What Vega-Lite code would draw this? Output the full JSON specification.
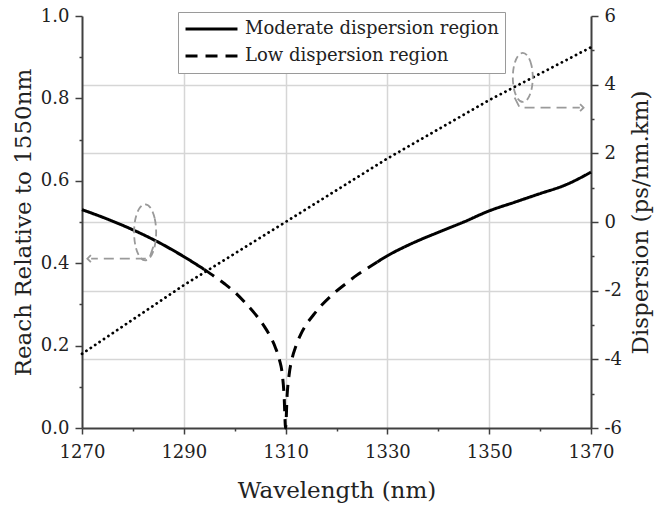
{
  "$schema": "https://vega.github.io/schema/vega-lite/v6.json",
  "width": 509,
  "height": 412,
  "autosize": {"type": "none"},
  "padding": {"left": 82, "top": 16, "right": 67, "bottom": 78},
  "background": "white",
  "config": {
    "font": "DejaVu Serif",
    "view": {"stroke": null},
    "axis": {
      "domainColor": "#404040",
      "domainWidth": 2,
      "tickColor": "#404040",
      "tickWidth": 1.5,
      "labelFont": "DejaVu Serif",
      "labelFontSize": 18,
      "labelColor": "#222222",
      "labelFlush": false,
      "labelOverlap": false,
      "titleFont": "DejaVu Serif",
      "titleFontSize": 23,
      "titleFontWeight": "normal",
      "titleColor": "#222222",
      "gridColor": "#d6d6d6",
      "gridWidth": 1.5
    },
    "legend": {
      "labelFont": "DejaVu Serif",
      "labelFontSize": 18,
      "labelColor": "#222222",
      "labelLimit": 0
    }
  },
  "datasets": {
    "reach": [
      {"x": 1270, "y": 0.530, "region": "Moderate dispersion region", "seg": "m1"},
      {"x": 1275, "y": 0.507, "region": "Moderate dispersion region", "seg": "m1"},
      {"x": 1280, "y": 0.481, "region": "Moderate dispersion region", "seg": "m1"},
      {"x": 1285, "y": 0.451, "region": "Moderate dispersion region", "seg": "m1"},
      {"x": 1290, "y": 0.416, "region": "Moderate dispersion region", "seg": "m1"},
      {"x": 1294, "y": 0.385, "region": "Moderate dispersion region", "seg": "m1"},
      {"x": 1294, "y": 0.385, "region": "Low dispersion region", "seg": "low"},
      {"x": 1296, "y": 0.368, "region": "Low dispersion region", "seg": "low"},
      {"x": 1298, "y": 0.350, "region": "Low dispersion region", "seg": "low"},
      {"x": 1300, "y": 0.330, "region": "Low dispersion region", "seg": "low"},
      {"x": 1302, "y": 0.305, "region": "Low dispersion region", "seg": "low"},
      {"x": 1304, "y": 0.277, "region": "Low dispersion region", "seg": "low"},
      {"x": 1306, "y": 0.243, "region": "Low dispersion region", "seg": "low"},
      {"x": 1307, "y": 0.222, "region": "Low dispersion region", "seg": "low"},
      {"x": 1308, "y": 0.195, "region": "Low dispersion region", "seg": "low"},
      {"x": 1308.8, "y": 0.165, "region": "Low dispersion region", "seg": "low"},
      {"x": 1309.3, "y": 0.135, "region": "Low dispersion region", "seg": "low"},
      {"x": 1309.7, "y": 0.080, "region": "Low dispersion region", "seg": "low"},
      {"x": 1310, "y": 0.0, "region": "Low dispersion region", "seg": "low"},
      {"x": 1310.3, "y": 0.080, "region": "Low dispersion region", "seg": "low"},
      {"x": 1310.7, "y": 0.130, "region": "Low dispersion region", "seg": "low"},
      {"x": 1311.3, "y": 0.170, "region": "Low dispersion region", "seg": "low"},
      {"x": 1312, "y": 0.198, "region": "Low dispersion region", "seg": "low"},
      {"x": 1313, "y": 0.228, "region": "Low dispersion region", "seg": "low"},
      {"x": 1314, "y": 0.250, "region": "Low dispersion region", "seg": "low"},
      {"x": 1315.5, "y": 0.275, "region": "Low dispersion region", "seg": "low"},
      {"x": 1317, "y": 0.297, "region": "Low dispersion region", "seg": "low"},
      {"x": 1319.4, "y": 0.326, "region": "Low dispersion region", "seg": "low"},
      {"x": 1322, "y": 0.352, "region": "Low dispersion region", "seg": "low"},
      {"x": 1324, "y": 0.371, "region": "Low dispersion region", "seg": "low"},
      {"x": 1326, "y": 0.387, "region": "Low dispersion region", "seg": "low"},
      {"x": 1328, "y": 0.403, "region": "Low dispersion region", "seg": "low"},
      {"x": 1328, "y": 0.403, "region": "Moderate dispersion region", "seg": "m2"},
      {"x": 1330, "y": 0.418, "region": "Moderate dispersion region", "seg": "m2"},
      {"x": 1335, "y": 0.449, "region": "Moderate dispersion region", "seg": "m2"},
      {"x": 1340, "y": 0.475, "region": "Moderate dispersion region", "seg": "m2"},
      {"x": 1345, "y": 0.500, "region": "Moderate dispersion region", "seg": "m2"},
      {"x": 1350, "y": 0.527, "region": "Moderate dispersion region", "seg": "m2"},
      {"x": 1355, "y": 0.548, "region": "Moderate dispersion region", "seg": "m2"},
      {"x": 1360, "y": 0.569, "region": "Moderate dispersion region", "seg": "m2"},
      {"x": 1365, "y": 0.590, "region": "Moderate dispersion region", "seg": "m2"},
      {"x": 1370, "y": 0.621, "region": "Moderate dispersion region", "seg": "m2"}
    ],
    "disp": [
      {"x": 1270, "y": -3.84},
      {"x": 1290, "y": -1.84},
      {"x": 1310, "y": 0.0},
      {"x": 1330, "y": 1.85},
      {"x": 1350, "y": 3.55},
      {"x": 1370, "y": 5.09}
    ],
    "ellL": [
      {"x": 1284.57, "y": 0.475, "o": 0},
      {"x": 1284.28, "y": 0.509, "o": 1},
      {"x": 1283.49, "y": 0.534, "o": 2},
      {"x": 1282.4, "y": 0.543, "o": 3},
      {"x": 1281.32, "y": 0.534, "o": 4},
      {"x": 1280.52, "y": 0.509, "o": 5},
      {"x": 1280.23, "y": 0.475, "o": 6},
      {"x": 1280.52, "y": 0.441, "o": 7},
      {"x": 1281.32, "y": 0.416, "o": 8},
      {"x": 1282.4, "y": 0.407, "o": 9},
      {"x": 1283.49, "y": 0.416, "o": 10},
      {"x": 1284.28, "y": 0.441, "o": 11}
    ],
    "arrL": [
      {"x": 1284.0, "y": 0.44, "o": 0},
      {"x": 1283.2, "y": 0.411, "o": 1},
      {"x": 1271.8, "y": 0.411, "o": 2}
    ],
    "headL": [{"x": 1271.4, "y": 0.411}],
    "ellR": [
      {"x": 1358.56, "y": 4.21, "o": 0},
      {"x": 1358.30, "y": 4.567, "o": 1},
      {"x": 1357.58, "y": 4.828, "o": 2},
      {"x": 1356.6, "y": 4.924, "o": 3},
      {"x": 1355.62, "y": 4.828, "o": 4},
      {"x": 1354.90, "y": 4.567, "o": 5},
      {"x": 1354.64, "y": 4.21, "o": 6},
      {"x": 1354.90, "y": 3.853, "o": 7},
      {"x": 1355.62, "y": 3.592, "o": 8},
      {"x": 1356.6, "y": 3.496, "o": 9},
      {"x": 1357.58, "y": 3.592, "o": 10},
      {"x": 1358.30, "y": 3.853, "o": 11}
    ],
    "arrR": [
      {"x": 1355.0, "y": 3.62, "o": 0},
      {"x": 1356.0, "y": 3.33, "o": 1},
      {"x": 1367.8, "y": 3.33, "o": 2}
    ],
    "headR": [{"x": 1368.2, "y": 3.33}]
  },
  "layer": [
    {
      "encoding": {
        "x": {
          "field": "x", "type": "quantitative",
          "scale": {"domain": [1270, 1370], "nice": false, "zero": false},
          "axis": {
            "title": "Wavelength (nm)",
            "values": [1270, 1280, 1290, 1300, 1310, 1320, 1330, 1340, 1350, 1360, 1370],
            "format": "d",
            "labelExpr": "(datum.value - 1270) % 20 == 0 ? datum.label : ''",
            "tickSize": {"condition": {"test": "(datum.value - 1270) % 20 == 0", "value": 6}, "value": 3},
            "grid": true,
            "gridOpacity": {"condition": {"test": "(datum.value - 1270) % 20 == 0 && datum.value > 1270 && datum.value < 1370", "value": 1}, "value": 0},
            "labelPadding": 9,
            "titlePadding": 18
          }
        },
        "y": {
          "field": "y", "type": "quantitative",
          "scale": {"domain": [0, 1], "nice": false, "zero": false},
          "axis": {
            "title": "Reach Relative to 1550nm",
            "orient": "left",
            "values": [0, 0.1, 0.2, 0.3, 0.4, 0.5, 0.6, 0.7, 0.8, 0.9, 1.0],
            "format": ".1f",
            "labelExpr": "round(datum.value * 10) % 2 == 0 ? datum.label : ''",
            "tickSize": {"condition": {"test": "round(datum.value * 10) % 2 == 0", "value": 7}, "value": 3},
            "grid": false,
            "labelPadding": 6,
            "titlePadding": 5
          }
        }
      },
      "layer": [
        {
          "data": {"name": "reach"},
          "mark": {"type": "line", "color": "black", "strokeWidth": 3, "interpolate": "monotone"},
          "encoding": {
            "strokeDash": {
              "field": "region", "type": "nominal",
              "scale": {"domain": ["Moderate dispersion region", "Low dispersion region"], "range": [[1, 0], [12, 8]]},
              "legend": {
                "title": null,
                "orient": "none",
                "legendX": 96,
                "legendY": -4,
                "padding": 6,
                "strokeColor": "#9a9a9a",
                "fillColor": "white",
                "symbolType": "stroke",
                "symbolStrokeWidth": 3,
                "symbolStrokeColor": "black",
                "symbolSize": 2700,
                "clipHeight": 22,
                "rowPadding": 5,
                "labelOffset": 6
              }
            },
            "detail": {"field": "seg"}
          }
        },
        {
          "data": {"name": "ellL"},
          "mark": {"type": "line", "interpolate": "cardinal-closed", "color": "#9a9a9a", "strokeWidth": 1.8, "strokeDash": [7, 4]},
          "encoding": {"order": {"field": "o", "type": "quantitative"}}
        },
        {
          "data": {"name": "arrL"},
          "mark": {"type": "line", "color": "#9a9a9a", "strokeWidth": 1.8, "strokeDash": [10, 6]},
          "encoding": {"order": {"field": "o", "type": "quantitative"}}
        },
        {
          "data": {"name": "headL"},
          "mark": {"type": "point", "shape": "M0.5,-1L-0.5,0L0.5,1", "filled": false, "color": "#9a9a9a", "strokeWidth": 1.8, "size": 50, "opacity": 1},
          "encoding": {}
        }
      ]
    },
    {
      "encoding": {
        "x": {
          "field": "x", "type": "quantitative",
          "scale": {"domain": [1270, 1370], "nice": false, "zero": false},
          "axis": {
            "title": "Wavelength (nm)",
            "values": [1270, 1280, 1290, 1300, 1310, 1320, 1330, 1340, 1350, 1360, 1370],
            "format": "d",
            "labelExpr": "(datum.value - 1270) % 20 == 0 ? datum.label : ''",
            "tickSize": {"condition": {"test": "(datum.value - 1270) % 20 == 0", "value": 6}, "value": 3},
            "grid": true,
            "gridOpacity": {"condition": {"test": "(datum.value - 1270) % 20 == 0 && datum.value > 1270 && datum.value < 1370", "value": 1}, "value": 0},
            "labelPadding": 9,
            "titlePadding": 18
          }
        },
        "y": {
          "field": "y", "type": "quantitative",
          "scale": {"domain": [-6, 6], "nice": false, "zero": false},
          "axis": {
            "title": "Dispersion (ps/nm.km)",
            "orient": "right",
            "titleAngle": 270,
            "titleBaseline": "top",
            "values": [-6, -5, -4, -3, -2, -1, 0, 1, 2, 3, 4, 5, 6],
            "labelExpr": "abs(datum.value) % 2 == 0 ? ((datum.value < 0 ? '-' : '') + abs(datum.value)) : ''",
            "tickSize": {"condition": {"test": "abs(datum.value) % 2 == 0", "value": 7}, "value": 3},
            "grid": true,
            "gridOpacity": {"condition": {"test": "abs(datum.value) % 2 == 0 && abs(datum.value) < 6", "value": 1}, "value": 0},
            "labelPadding": 6,
            "titlePadding": 8
          }
        }
      },
      "layer": [
        {
          "data": {"name": "disp"},
          "mark": {"type": "line", "color": "black", "strokeWidth": 2.8, "strokeDash": [0.1, 5.2], "strokeCap": "round"}
        },
        {
          "data": {"name": "ellR"},
          "mark": {"type": "line", "interpolate": "cardinal-closed", "color": "#9a9a9a", "strokeWidth": 1.8, "strokeDash": [7, 4]},
          "encoding": {"order": {"field": "o", "type": "quantitative"}}
        },
        {
          "data": {"name": "arrR"},
          "mark": {"type": "line", "color": "#9a9a9a", "strokeWidth": 1.8, "strokeDash": [10, 6]},
          "encoding": {"order": {"field": "o", "type": "quantitative"}}
        },
        {
          "data": {"name": "headR"},
          "mark": {"type": "point", "shape": "M-0.5,-1L0.5,0L-0.5,1", "filled": false, "color": "#9a9a9a", "strokeWidth": 1.8, "size": 50, "opacity": 1},
          "encoding": {}
        }
      ]
    }
  ],
  "resolve": {"scale": {"y": "independent"}}
}
